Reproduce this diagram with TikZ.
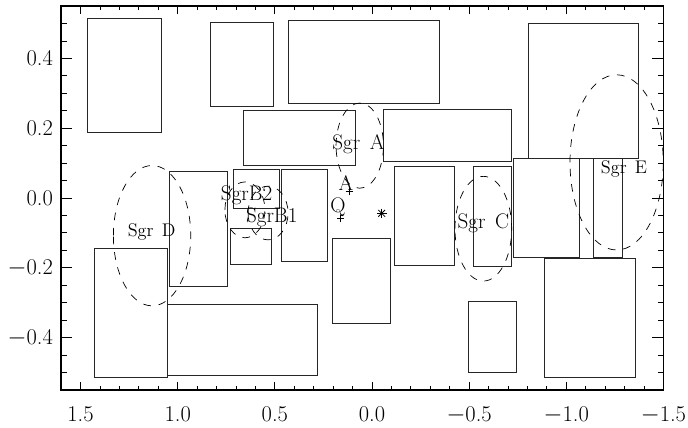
\documentclass[tikz,border=0pt]{standalone}
\begin{document}
\begin{tikzpicture}[x={(-4.8575cm,0)}, y={(0,8.725cm)},
    field/.style={draw=black!85, line width=0.6pt},
    cloud/.style={draw, line width=0.5pt, dash pattern=on 5.5pt off 5.5pt},
    srclabel/.style={font=\fontsize{15}{17}\selectfont, inner sep=0pt},
    smalllabel/.style={font=\fontsize{13}{15}\selectfont, inner sep=0pt},
    ticklabel/.style={font=\fontsize{16}{18}\selectfont, inner sep=0pt}]
    \useasboundingbox (1.9146,-0.6562) rectangle (-1.6263,0.5673);

    % Frame
    \draw[line width=1pt] (1.6,-0.55) rectangle (-1.5,0.55);

    % Ticks in l
    \foreach \i in {-15,...,16} {
        \pgfmathsetmacro\t{\i/10}
        \pgfmathsetmacro\len{ifthenelse(mod(\i,5)==0,0.1875,0.1)}
        \draw[line width=0.6pt] (\t,-0.55) -- ++(0,\len cm);
        \draw[line width=0.6pt] (\t,0.55) -- ++(0,-\len cm);
    }
    % Ticks in b
    \foreach \i in {-11,...,11} {
        \pgfmathsetmacro\t{\i*0.05}
        \pgfmathsetmacro\len{ifthenelse(mod(\i,4)==0,0.275,0.143)}
        \draw[line width=0.6pt] (1.6,\t) -- ++(\len cm,0);
        \draw[line width=0.6pt] (-1.5,\t) -- ++(-\len cm,0);
    }

    % Tick labels
    \foreach \v/\s [count=\k] in {1.5/1.5, 1.0/1.0, 0.5/0.5, 0/0.0, -0.5/$-$0.5, -1.0/$-$1.0, -1.5/$-$1.5}
        \node[ticklabel, anchor=north, yshift=-0.42cm] (xl\k) at (\v,-0.55) {\s};
    \foreach \v/\s [count=\k] in {0.4/0.4, 0.2/0.2, 0/0.0, -0.2/$-$0.2, -0.4/$-$0.4}
        \node[ticklabel, anchor=east, xshift=-0.2cm] (yl\k) at (1.6,\v) {\s};

    % Fields
    \foreach \a/\b/\c/\d in {
        1.463/0.188/1.086/0.515, 0.834/0.261/0.508/0.503, 0.431/0.271/-0.345/0.509,
        -0.806/0.114/-1.373/0.501, 0.660/0.092/0.084/0.251, -0.058/0.104/-0.715/0.255,
        -0.113/-0.193/-0.424/0.091, -0.521/-0.195/-0.719/0.091, -0.727/-0.171/-1.067/0.114,
        -1.141/-0.171/-1.288/0.114, -0.885/-0.514/-1.357/-0.173, -0.496/-0.501/-0.745/-0.297,
        0.204/-0.360/-0.096/-0.115, 1.051/-0.509/0.282/-0.306, 1.429/-0.514/1.053/-0.145,
        1.045/-0.253/0.745/0.077, 0.714/-0.030/0.477/0.083, 0.727/-0.190/0.516/-0.088,
        0.465/-0.181/0.230/0.083}
        \draw[field] (\a,\b) rectangle (\c,\d);

    % Clouds
    \draw[cloud] (0.063,0.150) ellipse (0.122 and 0.122);
    \draw[cloud] (1.132,-0.108) ellipse (0.199 and 0.201);
    \draw[cloud] (-1.259,0.102) ellipse (0.240 and 0.251);
    \draw[cloud] (-0.573,-0.088) ellipse (0.146 and 0.150);
    \draw[cloud] (0.654,-0.034) ellipse (0.103 and 0.080);
    \draw[cloud] (0.535,-0.043) ellipse (0.103 and 0.077);

    % Names
    \node[srclabel] (sgrA) at (0.070,0.155) {Sgr\hspace{0.45em}A};
    \node[smalllabel] (sgrD) at (1.134,-0.098) {Sgr\hspace{0.45em}D};
    \node[smalllabel] (sgrE) at (-1.297,0.082) {Sgr\hspace{0.45em}E};
    \node[srclabel] (sgrC) at (-0.573,-0.073) {Sgr\hspace{0.45em}C};
    \node[srclabel] (sgrB2) at (0.645,0.009) {SgrB2};
    \node[srclabel] (sgrB1) at (0.516,-0.054) {SgrB1};

    % Clusters and Sgr A*
    \coordinate (arches) at (0.117,0.018);
    \coordinate (quint) at (0.161,-0.058);
    \coordinate (sgrAstar) at (-0.050,-0.044);
    \node[srclabel] (archlab) at (0.134,0.042) {A};
    \node[srclabel] (quintlab) at (0.175,-0.026) {Q};
    \draw[line width=0.6pt] (arches) +(-0.09cm,0) -- +(0.09cm,0) +(0,-0.09cm) -- +(0,0.09cm);
    \draw[line width=0.6pt] (quint) +(-0.09cm,0) -- +(0.09cm,0) +(0,-0.09cm) -- +(0,0.09cm);
    \foreach \ang in {0,45,90,135}
        \draw[line width=0.6pt] (sgrAstar) +(\ang:0.12cm) -- +(\ang+180:0.12cm);
\end{tikzpicture}
\end{document}
